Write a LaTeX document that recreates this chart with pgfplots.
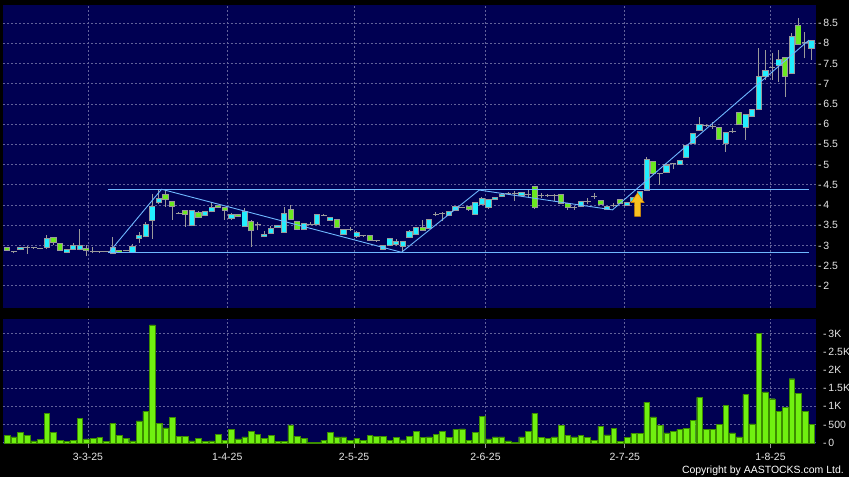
\documentclass[border=0pt]{standalone}
\usepackage{fontspec}
\setmainfont{Liberation Sans}
\usepackage{pgfplots}
\usepackage{pgfplotstable}
\pgfplotsset{compat=1.18}
\definecolor{navy}{HTML}{000052}
\definecolor{gridc}{HTML}{62629A}
\definecolor{upc}{HTML}{22EEFF}
\definecolor{dnc}{HTML}{6AE820}
\definecolor{wick}{HTML}{9A9A9A}
\definecolor{vol}{HTML}{70F010}
\definecolor{volb}{HTML}{3C8C00}
\definecolor{lineb}{HTML}{6FB8FF}
\definecolor{txt}{HTML}{E8E8E8}
\definecolor{arrowy}{HTML}{F8C020}
\definecolor{arrowo}{HTML}{D88A00}

\pgfplotstableread{
i O H L C
0 2.96 2.97 2.87 2.88
1 2.84 2.87 2.80 2.84
2 2.90 2.97 2.88 2.95
3 2.95 2.98 2.79 2.95
4 2.94 2.96 2.92 2.94
5 2.92 2.94 2.91 2.92
6 2.96 3.26 2.91 3.16
7 3.20 3.22 3.02 3.06
8 3.04 3.05 2.87 2.88
9 2.83 2.91 2.82 2.90
10 2.90 3.06 2.89 3.00
11 2.90 3.40 2.88 3.00
12 2.92 3.00 2.75 2.87
13 2.86 2.95 2.80 2.84
14 2.84 2.86 2.82 2.84
15 2.84 2.85 2.83 2.84
16 2.81 3.20 2.80 2.94
17 2.88 2.89 2.82 2.83
18 2.87 2.89 2.86 2.87
19 2.82 3.03 2.81 2.98
20 3.18 3.34 3.05 3.25
21 3.21 3.58 3.20 3.52
22 3.61 4.27 3.17 3.96
23 4.05 4.37 4.02 4.16
24 4.27 4.37 3.96 4.14
25 4.09 4.10 3.63 3.96
26 3.79 3.82 3.77 3.79
27 3.86 3.87 3.46 3.77
28 3.49 3.88 3.47 3.86
29 3.82 3.84 3.67 3.69
30 3.73 3.86 3.72 3.85
31 3.83 4.05 3.82 3.94
32 3.98 3.99 3.92 3.93
33 3.93 3.95 3.63 3.86
34 3.67 3.80 3.64 3.77
35 3.77 3.78 3.70 3.71
36 3.46 3.92 3.45 3.85
37 3.58 3.62 2.97 3.36
38 3.52 3.58 3.37 3.52
39 3.21 3.36 3.20 3.28
40 3.30 3.49 3.29 3.42
41 3.44 3.51 3.43 3.50
42 3.32 3.96 3.31 3.79
43 3.88 4.00 3.62 3.63
44 3.58 3.59 3.38 3.40
45 3.40 3.55 3.39 3.54
46 3.52 3.58 3.50 3.52
47 3.52 3.78 3.51 3.77
48 3.75 3.77 3.74 3.75
49 3.62 3.70 3.60 3.69
50 3.63 3.64 3.42 3.44
51 3.27 3.41 3.26 3.40
52 3.40 3.45 3.35 3.40
53 3.21 3.35 3.19 3.32
54 3.24 3.26 3.22 3.24
55 3.24 3.27 3.10 3.13
56 3.11 3.13 3.09 3.11
57 2.91 3.01 2.90 3.00
58 3.00 3.19 2.99 3.17
59 3.02 3.15 2.99 3.09
60 2.97 3.10 2.83 3.09
61 3.19 3.39 3.18 3.34
62 3.27 3.46 3.26 3.45
63 3.45 3.62 3.37 3.38
64 3.42 3.66 3.41 3.65
65 3.77 3.82 3.72 3.77
66 3.78 3.83 3.60 3.78
67 3.74 3.85 3.73 3.84
68 3.86 3.97 3.85 3.96
69 3.94 3.96 3.92 3.94
70 3.96 3.97 3.86 3.88
71 3.77 4.06 3.76 4.05
72 4.02 4.20 4.00 4.15
73 3.94 4.15 3.90 4.14
74 4.14 4.20 4.13 4.19
75 4.22 4.30 4.20 4.27
76 4.29 4.32 4.27 4.29
77 4.28 4.35 4.10 4.28
78 4.24 4.33 4.23 4.32
79 4.27 4.40 4.20 4.27
80 4.47 4.48 3.90 3.95
81 4.24 4.30 4.18 4.24
82 4.24 4.27 4.20 4.24
83 4.24 4.27 4.10 4.24
84 4.26 4.27 4.03 4.04
85 4.03 4.04 3.88 3.95
86 3.95 3.97 3.88 3.95
87 3.96 4.09 3.95 4.08
88 4.09 4.18 4.02 4.09
89 4.21 4.30 4.15 4.21
90 4.10 4.11 4.01 4.02
91 3.90 3.97 3.89 3.96
92 3.98 4.05 3.94 3.98
93 4.14 4.15 4.03 4.04
94 4.00 4.08 3.99 4.07
95 4.08 4.20 4.07 4.19
96 4.14 4.35 4.13 4.34
97 4.36 5.20 4.35 5.13
98 5.07 5.08 4.78 4.79
99 4.79 4.80 4.50 4.79
100 4.81 5.00 4.80 4.99
101 5.02 5.05 4.88 5.02
102 5.00 5.12 4.99 5.11
103 5.18 5.49 5.17 5.48
104 5.51 5.78 5.50 5.77
105 5.84 6.17 5.83 5.98
106 5.96 6.00 5.92 5.96
107 5.95 6.05 5.88 5.95
108 5.93 5.94 5.60 5.61
109 5.51 5.79 5.32 5.79
110 5.83 5.90 5.78 5.83
111 6.29 6.30 5.97 5.98
112 5.93 6.23 5.61 6.23
113 6.20 6.37 6.19 6.37
114 6.37 7.88 6.36 7.18
115 7.19 7.83 7.10 7.32
116 7.40 7.75 7.09 7.40
117 7.45 7.83 7.05 7.59
118 7.65 7.66 6.68 7.19
119 7.26 8.25 7.25 8.18
120 8.43 8.62 7.97 7.98
121 8.02 8.29 7.63 8.02
122 7.88 8.08 7.59 8.08
}\candles

\pgfplotstableread{
i v
0 0.21
1 0.16
2 0.28
3 0.20
4 0.05
5 0.09
6 0.80
7 0.28
8 0.06
9 0.04
10 0.06
11 0.68
12 0.11
13 0.12
14 0.14
15 0.03
16 0.53
17 0.20
18 0.13
19 0.05
20 0.60
21 0.86
22 3.24
23 0.53
24 0.41
25 0.70
26 0.18
27 0.18
28 0.05
29 0.13
30 0.03
31 0.05
32 0.23
33 0.06
34 0.37
35 0.11
36 0.16
37 0.31
38 0.23
39 0.12
40 0.21
41 0.03
42 0.03
43 0.49
44 0.17
45 0.12
46 0.01
47 0.01
48 0.07
49 0.28
50 0.16
51 0.16
52 0.06
53 0.12
54 0.07
55 0.20
56 0.17
57 0.17
58 0.07
59 0.15
60 0.08
61 0.17
62 0.31
63 0.15
64 0.16
65 0.23
66 0.32
67 0.14
68 0.36
69 0.38
70 0.06
71 0.28
72 0.72
73 0.11
74 0.16
75 0.16
76 0.05
77 0.02
78 0.16
79 0.32
80 0.81
81 0.15
82 0.13
83 0.16
84 0.48
85 0.20
86 0.16
87 0.21
88 0.14
89 0.06
90 0.45
91 0.22
92 0.40
93 0.03
94 0.14
95 0.26
96 0.26
97 1.12
98 0.71
99 0.47
100 0.27
101 0.32
102 0.36
103 0.40
104 0.62
105 1.25
106 0.37
107 0.36
108 0.51
109 1.03
110 0.27
111 0.16
112 1.33
113 0.52
114 3.00
115 1.40
116 1.21
117 0.87
118 0.97
119 1.76
120 1.36
121 0.87
122 0.50
}\vols

\pgfplotsset{
  panel/.style={
    scale only axis, width=813.7pt, anchor=south west,
    xmin=-0.65, xmax=122.64,
    axis background/.style={fill=navy},
    axis line style={draw=none},
    xmajorgrids, ymajorgrids,
    major grid style={draw=gridc, dash pattern=on 2pt off 2pt, line width=0.7pt},
    xtick={12.23,33.36,52.6,72.53,93.67,115.76},
    ytick pos=right, yticklabel pos=right,
    /pgf/number format/assume math mode=true,
    ticklabel style={font=\fontsize{10.5}{12}\selectfont, text=txt},
    yticklabel style={anchor=west, inner sep=0pt, xshift=2.2pt},
    ytick style={draw=none},
  }
}

\begin{document}
\begin{tikzpicture}
\fill[black] (0pt,0pt) rectangle (850pt,478pt);

\begin{axis}[panel, at={(3pt,170pt)}, height=303pt, ymin=1.46, ymax=8.95,
  ytick={2,2.5,3,3.5,4,4.5,5,5.5,6,6.5,7,7.5,8,8.5},
  yticklabels={-\,2,-\,2.5,-\,3,-\,3.5,-\,4,-\,4.5,-\,5,-\,5.5,-\,6,-\,6.5,-\,7,-\,7.5,-\,8,-\,8.5},
  xticklabels={}, xtick style={draw=none}]
% wicks
\addplot[draw=none, mark=none, forget plot,
  error bars/.cd, y dir=plus, y explicit, error mark=none,
  error bar style={draw=wick, line width=1pt, solid}]
  table[x=i, y=L, y error plus expr={\thisrow{H}-\thisrow{L}}] \candles;
% body outline
\addplot[draw=none, mark=none, forget plot,
  error bars/.cd, y dir=plus, y explicit, error mark=none,
  error bar style={draw=wick, line width=6.2pt, solid}]
  table[x=i, y expr={min(\thisrow{O},\thisrow{C})-0.0123},
        y error plus expr={abs(\thisrow{C}-\thisrow{O})+0.0247}] \candles;
% up bodies
\addplot[draw=none, mark=none, forget plot,
  error bars/.cd, y dir=plus, y explicit, error mark=none,
  error bar style={draw=upc, line width=4.4pt, solid}]
  table[x=i, y expr={ifthenelse(\thisrow{C}>\thisrow{O},\thisrow{O}+0.0123,-10)},
        y error plus expr={max(abs(\thisrow{C}-\thisrow{O})-0.0247,0)}] \candles;
% down bodies
\addplot[draw=none, mark=none, forget plot,
  error bars/.cd, y dir=plus, y explicit, error mark=none,
  error bar style={draw=dnc, line width=4.4pt, solid}]
  table[x=i, y expr={ifthenelse(\thisrow{C}<\thisrow{O},\thisrow{C}+0.0123,-10)},
        y error plus expr={max(abs(\thisrow{C}-\thisrow{O})-0.0247,0)}] \candles;
% trend lines
\addplot[lineb, line width=0.9pt, mark=none] coordinates {(15.26,4.395) (121.6,4.395)};
\addplot[lineb, line width=0.9pt, mark=none] coordinates {(15.26,2.822) (121.6,2.822)};
\addplot[lineb, line width=0.9pt, mark=none] coordinates {(15.4,2.822) (23.4,4.39) (59.8,2.83) (71.6,4.37) (91.8,3.88) (121.6,8.08)};
% arrow
\fill[arrowy, draw=arrowo, line width=0.5pt]
  (axis cs:95.6,4.30) -- (axis cs:96.6,4.06) -- (axis cs:96.05,4.06) -- (axis cs:96.05,3.72)
  -- (axis cs:95.15,3.72) -- (axis cs:95.15,4.06) -- (axis cs:94.6,4.06) -- cycle;
\end{axis}

\begin{axis}[panel, at={(3pt,34pt)}, height=125pt, ymin=-0.02, ymax=3.41,
  ytick={0,0.5,1,1.5,2,2.5,3},
  yticklabels={-\,0,-\,500,-\,1K,-\,1.5K,-\,2K,-\,2.5K,-\,3K},
  xticklabels={3-3-25,1-4-25,2-5-25,2-6-25,2-7-25,1-8-25},
  xtick pos=bottom, tick align=outside, major tick length=5pt,
  xtick style={draw=wick, line width=0.8pt},
  xticklabel style={yshift=-1pt}]
\addplot[ybar, bar width=5.6pt, fill=vol, draw=volb, line width=0.4pt] table[x=i, y=v] \vols;
\end{axis}

\node[anchor=base east, inner sep=0pt, text=white, font=\fontsize{10.5}{12}\selectfont]
  at (845pt,3.5pt) {Copyright by AASTOCKS.com Ltd.};
\end{tikzpicture}
\end{document}
